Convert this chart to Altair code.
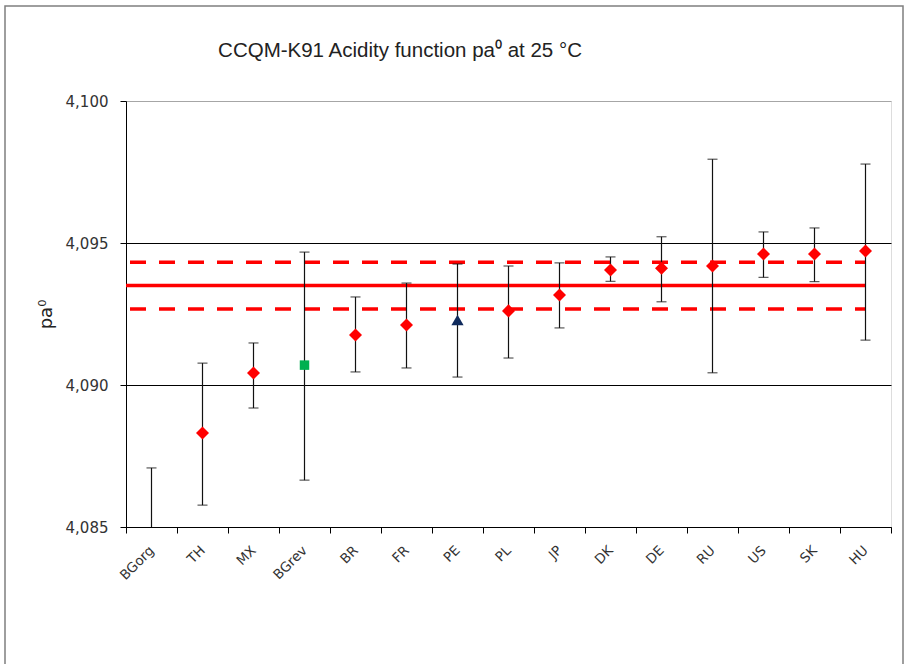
import altair as alt
import pandas as pd

categories = ["BGorg", "TH", "MX", "BGrev", "BR", "FR", "PE", "PL", "JP", "DK", "DE", "RU", "US", "SK", "HU"]
values = [4.0830, 4.08831, 4.09042, 4.09070, 4.09176, 4.09211, 4.09229, 4.09261, 4.09317,
          4.09405, 4.09411, 4.09419, 4.09461, 4.09461, 4.09472]
err_low = [4.0789, 4.08577, 4.08919, 4.08665, 4.09046, 4.09060, 4.09028, 4.09095, 4.09201,
           4.09365, 4.09293, 4.09043, 4.09379, 4.09364, 4.09158]
err_high = [4.08708, 4.09077, 4.09148, 4.09468, 4.09310, 4.09359, 4.09426, 4.09419, 4.09430,
            4.09451, 4.09522, 4.09795, 4.09539, 4.09553, 4.09778]
groups = ["std", "std", "std", "rev", "std", "std", "pe", "std", "std",
          "std", "std", "std", "std", "std", "std"]
kcrv = 4.0935
kcrv_u = 0.00082
y_ticks = [4.085, 4.090, 4.095, 4.100]
title_text = "CCQM-K91 Acidity function pa⁰ at 25 °C"

df = pd.DataFrame({"lab": categories, "val": values, "lo": err_low, "hi": err_high, "grp": groups})
lines = pd.DataFrame({
    "x": [-0.5, -0.5, -0.5],
    "x2": [len(categories) - 1] * 3,
    "y": [kcrv, kcrv + kcrv_u, kcrv - kcrv_u],
    "kind": ["solid", "dash", "dash"],
})

W, H = 765, 426
FONT = "DejaVu Sans"

yscale = alt.Scale(domain=[4.085, 4.100], nice=False, zero=False)


def yaxis():
    return alt.Axis(title="pa⁰", values=y_ticks, tickSize=6, tickColor="#000",
                    domainColor="#000", labelFont=FONT, labelFontSize=15, labelColor="#333",
                    labelPadding=12, labelExpr="replace(format(datum.value, '.3f'), '.', ',')",
                    titleFont=FONT, titleFontSize=18, titleFontWeight="normal",
                    titleColor="#222", titlePadding=10,
                    grid=True,
                    gridColor={"condition": {"test": "datum.value > 4.0995", "value": "#a6a6a6"},
                               "value": "#000000"},
                    gridWidth=1)


def Y(field):
    return alt.Y(field, scale=yscale, axis=yaxis())


xband = alt.X("lab:N", sort=categories, scale=alt.Scale(paddingInner=0, paddingOuter=0),
              axis=alt.Axis(title=None, tickBand="extent", labelAngle=-45, labelAlign="right",
                            labelBaseline="middle", labelPadding=15, tickSize=6, tickColor="#000",
                            domainColor="#000", labelFont=FONT, labelFontSize=13.5,
                            labelColor="#333", grid=False))

base = alt.Chart(df)

bars = base.mark_rule(color="#111", strokeWidth=1.2, clip=True).encode(
    x=xband, y=Y("lo:Q"), y2="hi:Q")
cap_hi = base.mark_tick(color="#111", thickness=1.2, size=10, orient="horizontal", clip=True).encode(
    x=xband, y=Y("hi:Q"))
cap_lo = base.mark_tick(color="#111", thickness=1.2, size=10, orient="horizontal", clip=True).encode(
    x=xband, y=Y("lo:Q"))
pts_std = base.transform_filter("datum.grp == 'std'").mark_point(
    filled=True, opacity=1, shape="diamond", size=170, color="#ff0000", clip=True).encode(
    x=xband, y=Y("val:Q"))
pts_rev = base.transform_filter("datum.grp == 'rev'").mark_point(
    filled=True, opacity=1, shape="square", size=90, color="#00b050", clip=True).encode(
    x=xband, y=Y("val:Q"))
pts_pe = base.transform_filter("datum.grp == 'pe'").mark_point(
    filled=True, opacity=1, shape="triangle-up", size=150, color="#0f2a5c", clip=True).encode(
    x=xband, y=Y("val:Q"))

band_layer = alt.layer(bars, cap_hi, cap_lo, pts_std, pts_rev, pts_pe)

xq = alt.X("x:Q", scale=alt.Scale(domain=[-0.5, len(categories) - 0.5], nice=False, zero=False), axis=None)
solid = alt.Chart(lines).transform_filter("datum.kind == 'solid'").mark_rule(
    color="#ff0000", strokeWidth=3.5).encode(x=xq, x2="x2:Q", y=Y("y:Q"))
dashed = alt.Chart(lines).transform_filter("datum.kind == 'dash'").mark_rule(
    color="#ff0000", strokeWidth=3.5, strokeDash=[16, 13], strokeDashOffset=-4).encode(
    x=xq, x2="x2:Q", y=Y("y:Q"))
line_layer = alt.layer(solid, dashed)

deco = alt.Chart(pd.DataFrame({"f": [0]}))
frame = deco.mark_rect(fill=None, stroke="#7f7f7f", strokeWidth=1.5).encode(
    x=alt.value(-121), x2=alt.value(777), y=alt.value(-95), y2=alt.value(600))
title = deco.mark_text(font="Liberation Sans", fontSize=20.5, color="#222", align="center",
                       baseline="alphabetic").encode(
    x=alt.value(274), y=alt.value(-44), text=alt.value(title_text))

chart = alt.layer(line_layer, band_layer, frame, title).resolve_scale(x="independent").properties(
    width=W, height=H,
    autosize=alt.AutoSizeParams(type="none"),
    padding={"left": 126, "top": 101, "right": 13, "bottom": 137},
).configure_view(stroke="#a6a6a6", strokeWidth=1).configure(background="white")

chart.save("out.html", embed_options={"renderer": "svg", "actions": False})
